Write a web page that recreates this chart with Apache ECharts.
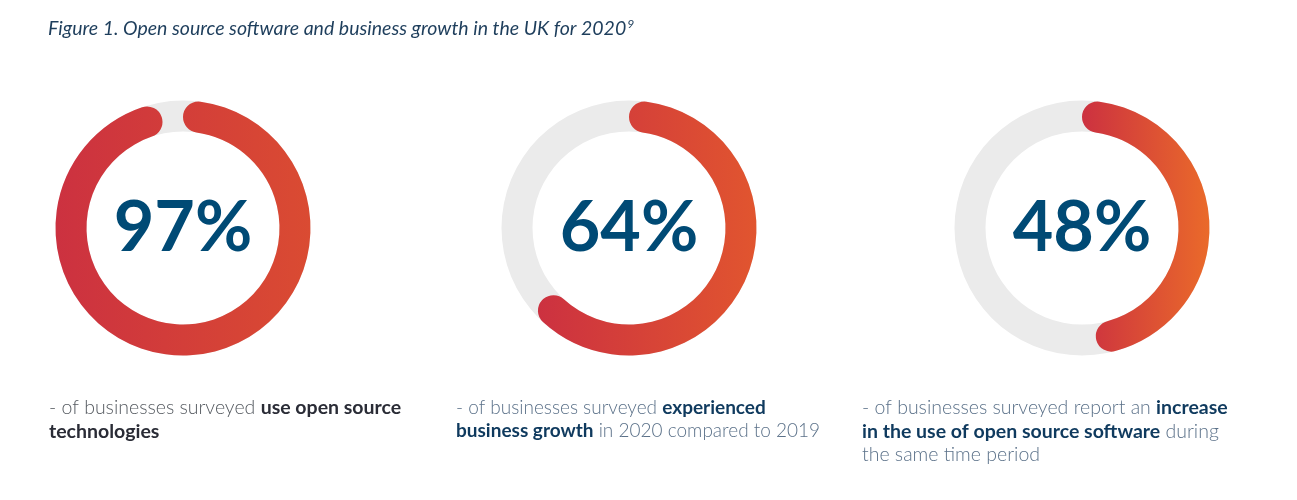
<!DOCTYPE html>
<html>
<head>
<meta charset="utf-8">
<script src="https://cdn.jsdelivr.net/npm/echarts@6/dist/echarts.min.js"></script>
<style>
html,body{margin:0;padding:0;background:#fff;}
#c{width:1297px;height:500px;}
</style>
</head>
<body>
<div id="c"></div>
<script>
const titleText = 'Figure 1. Open source software and business growth in the UK for 2020';
const titleSup = '9';
const values = [97, 64, 48];
const maxValue = 100;
const centersX = [183, 629, 1082];
const gradientEnds = ['#DA4B32', '#E1552F', '#EA6A2A'];
const descLines = [
  [[['l', '- of businesses surveyed '], ['b', 'use open source']], [['b', 'technologies']]],
  [[['l', '- of businesses surveyed '], ['b', 'experienced']], [['b', 'business growth'], ['l', ' in 2020 compared to 2019']]],
  [[['l', '- of businesses surveyed report an '], ['b', 'increase']], [['b', 'in the use of open source software'], ['l', ' during']], [['l', 'the same time period']]]
];
const descX = [49, 456, 862];
const descSizes = [19.5, 19, 19.5];
const boldColors = ['#2A2C36', '#0F3A5E', '#0F3A5E'];
const lightColors = ['#555a60', '#5B7189', '#5B7189'];

const chart = echarts.init(document.getElementById('c'));
const R = [96.5, 127.5];
const series = [];

values.forEach((v, i) => {
  series.push({
    type: 'pie',
    center: [centersX[i], 228],
    radius: R,
    silent: true,
    label: { show: false },
    labelLine: { show: false },
    itemStyle: { color: '#EBEBEB' },
    data: [{ value: maxValue }]
  });
  series.push({
    type: 'pie',
    center: [centersX[i], 228],
    radius: R,
    startAngle: 90,
    clockwise: true,
    silent: true,
    labelLine: { show: false },
    data: [
      {
        value: v,
        itemStyle: {
          borderRadius: 15.5,
          color: new echarts.graphic.LinearGradient(0, 0, 1, 0, [
            { offset: 0, color: '#CC3140' },
            { offset: 1, color: gradientEnds[i] }
          ])
        },
        label: {
          show: true,
          position: 'center',
          formatter: '{c}%',
          fontFamily: 'Lato',
          fontWeight: 'bold',
          fontSize: 70,
          color: '#004A75'
        }
      },
      {
        value: maxValue - v,
        itemStyle: { color: 'rgba(0,0,0,0)' },
        label: { show: false }
      }
    ]
  });
});

const graphics = [{
  type: 'text',
  left: 48,
  top: 18,
  style: {
    text: '{t|' + titleText + '}{s|' + titleSup + '}',
    rich: {
      t: { fontFamily: 'Lato', fontStyle: 'italic', fontSize: 19.5, fill: '#1E3E5C', verticalAlign: 'bottom' },
      s: { fontFamily: 'Lato', fontStyle: 'italic', fontSize: 12, fill: '#1E3E5C', verticalAlign: 'top', padding: [0, 0, 9, 1] }
    }
  }
}];

descLines.forEach((lines, i) => {
  const text = lines.map(line => line.map(([k, s]) => '{' + k + '|' + s + '}').join('')).join('\n');
  graphics.push({
    type: 'text',
    left: descX[i],
    top: 398,
    style: {
      text: text,
      rich: {
        l: { fontFamily: 'Lato', fontWeight: 300, fontSize: descSizes[i], lineHeight: 23.5, fill: lightColors[i] },
        b: { fontFamily: 'Lato', fontWeight: 'bold', fontSize: descSizes[i], lineHeight: 23.5, fill: boldColors[i] }
      }
    }
  });
});

chart.setOption({
  animation: false,
  series: series,
  graphic: graphics
});
</script>
</body>
</html>
